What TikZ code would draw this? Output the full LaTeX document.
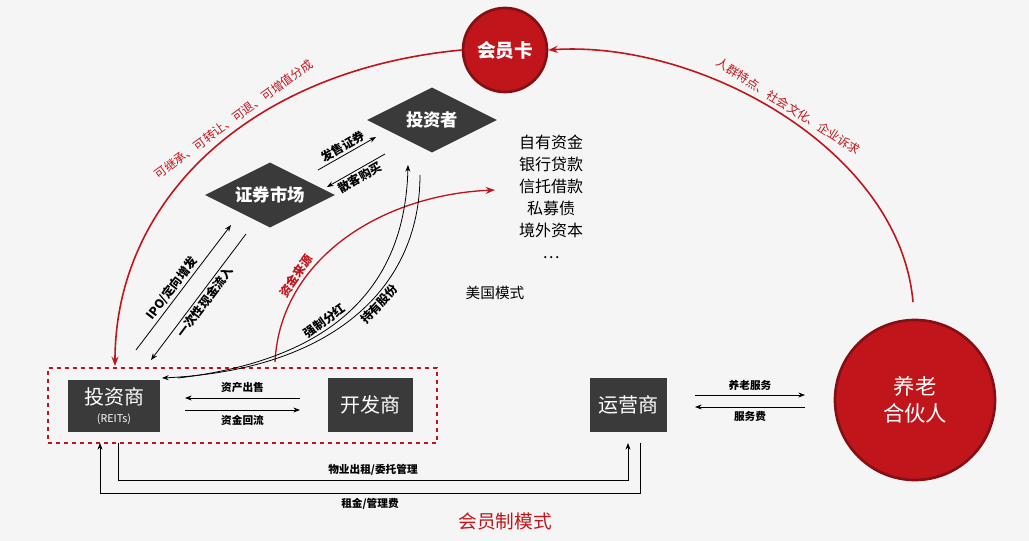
\documentclass[tikz,border=0pt]{standalone}
\usepackage{fontspec}
\setmainfont{Noto Sans CJK SC}
\usetikzlibrary{shapes.geometric,arrows.meta}
\definecolor{rd}{HTML}{C0161B}
\definecolor{dk}{HTML}{3A3A3A}
\begin{document}
\begin{tikzpicture}[x=0.75pt,y=-0.75pt,
 circ/.style={circle,fill=rd,draw=rd!70!black,line width=2pt,text=white,align=center},
 dia/.style={diamond,fill=dk,text=white,aspect=2,inner sep=1pt,font=\fontsize{13}{15}\selectfont\bfseries},
 box/.style={fill=dk,text=white,align=center,font=\fontsize{15}{17}\selectfont},
 ar/.style={-{Stealth[length=5pt]},line width=0.6pt},
 rar/.style={-{Stealth[length=7pt]},line width=1.2pt,draw=rd},
 lab/.style={font=\fontsize{9}{10}\selectfont\bfseries,inner sep=1.5pt},
 slab/.style={font=\fontsize{8}{9}\selectfont\bfseries},
 rlab/.style={font=\fontsize{9}{10}\selectfont,text=rd}]
\fill[gray!8] (0,0) rectangle (1029,541);
\useasboundingbox (0,0) rectangle (1029,541);
\node[circ,minimum size=84*0.75pt,font=\fontsize{14}{16}\selectfont\bfseries] (card) at (505,50) {会员卡};
\node[circ,minimum size=160*0.75pt,font=\fontsize{16}{20}\selectfont] (pen) at (915,400) {养老\\合伙人};
\node[dia,minimum width=130*0.75pt,minimum height=65*0.75pt] (inv) at (432,120) {投资者};
\node[dia,minimum width=130*0.75pt,minimum height=65*0.75pt] (mkt) at (270,195) {证券市场};
\node[align=center,font=\fontsize{12}{16.5}\selectfont] (src) at (551,197) {自有资金\\银行贷款\\信托借款\\私募债\\境外资本\\…};
\node[font=\fontsize{11}{13}\selectfont] (us) at (495,293) {美国模式};
\node[draw=rd,dashed,line width=1pt,minimum width=389*0.75pt,minimum height=75*0.75pt] (grp) at (242.5,405.5) {};
\node[box,minimum width=92*0.75pt,minimum height=52*0.75pt] (reit) at (114,406) {投资商\\[-3pt]{\fontsize{8}{9}\selectfont (REITs)}};
\node[box,minimum width=85*0.75pt,minimum height=54*0.75pt] (dev) at (370,405) {开发商};
\node[box,minimum width=77*0.75pt,minimum height=54*0.75pt] (op) at (628,405) {运营商};
\node[font=\fontsize{14}{16}\selectfont,text=rd] (mem) at (505,521) {会员制模式};
\coordinate (a1) at (300,398); \coordinate (a2) at (185,398);
\coordinate (b1) at (185,410); \coordinate (b2) at (300,410);
\draw[ar] (a1) -- node[above,slab] {资产出售} (a2);
\draw[ar] (b1) -- node[below,slab] {资金回流} (b2);
\coordinate (c1) at (695,395); \coordinate (c2) at (805,395);
\coordinate (d1) at (805,407); \coordinate (d2) at (695,407);
\draw[ar] (c1) -- node[above,slab] {养老服务} (c2);
\draw[ar] (d1) -- node[below,slab] {服务费} (d2);
\draw[ar] (118,443) -- (118,480) -- node[above,slab] {物业出租/委托管理} (628,480) -- (628,443);
\draw[ar] (640,443) -- (640,493) -- node[below,slab] {租金/管理费} (100,493) -- (100,443);
\draw[rar] (913,302) .. controls (900,150) and (700,40) .. (card.east)
  node[pos=0.5,sloped,above,rlab] {人群特点、社会文化、企业诉求};
\draw[rar] (card.west) .. controls (250,70) and (115,200) .. (115,366)
  node[pos=0.42,sloped,above,rlab] {可继承、可转让、可退、可增值分成};
\draw[rar,line width=1pt] (275,362) .. controls (280,260) and (380,195) .. (495,190)
  node[pos=0.3,sloped,above,text=rd,lab] {资金来源};
\draw[ar] (178,378) .. controls (330,360) and (405,290) .. (408,165)
  node[pos=0.42,sloped,above,lab] {强制分红};
\draw[ar] (420,175) .. controls (420,290) and (330,370) .. (162,378)
  node[pos=0.42,sloped,below,lab] {持有股份};
\draw[ar] (136,350) -- node[pos=0.45,sloped,above,lab] {IPO/定向增发} (231,225);
\draw[ar] (246,234) -- node[pos=0.5,sloped,below,lab] {一次性现金流入} (151,360);
\draw[ar] (318,170) -- node[sloped,above,lab] {发售证券} (376,137);
\draw[ar] (385,154) -- node[sloped,below,lab] {散客购买} (327,187);
\end{tikzpicture}
\end{document}
